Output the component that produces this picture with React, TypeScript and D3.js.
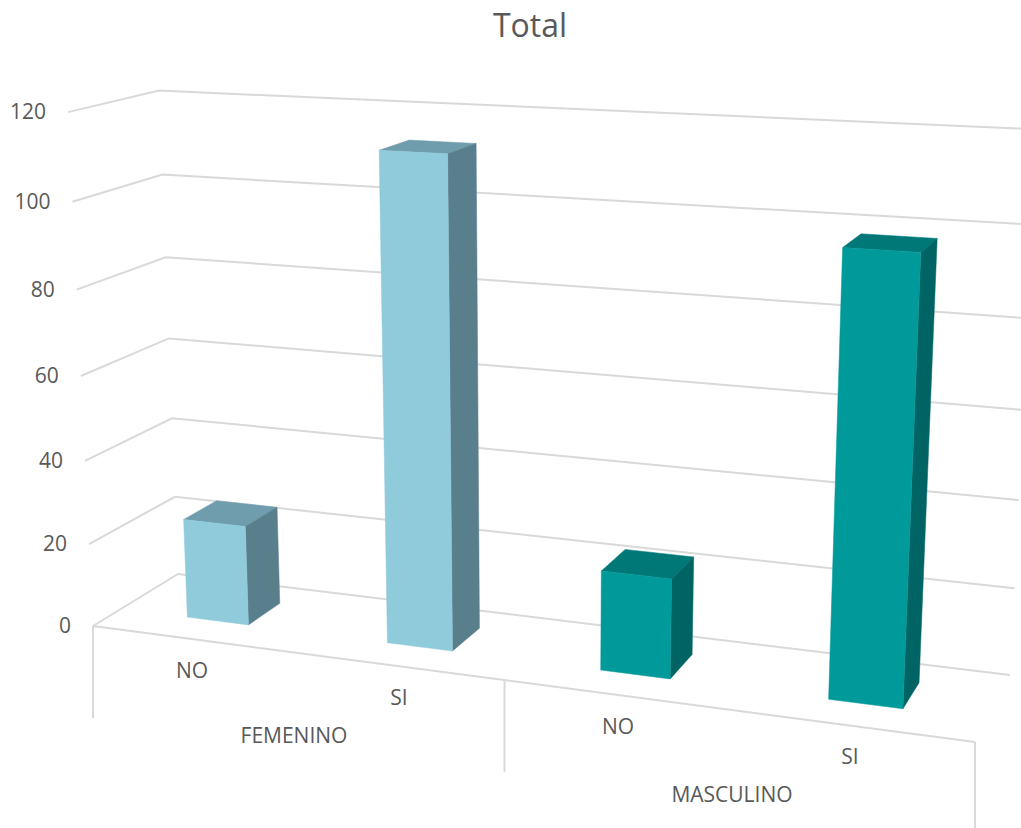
import React from "react";
import * as d3 from "d3";

const groups = ["FEMENINO", "MASCULINO"];
const answers = ["NO", "SI"];
const femeninoValues = [24, 113];
const masculinoValues = [23, 98];
const tickValues = [0, 20, 40, 60, 80, 100, 120];
const lightFaces = { front: "#8FCBDA", top: "#6F9DAD", side: "#5A7F8C" };
const tealFaces = { front: "#009A9A", top: "#007878", side: "#006464" };

const W = 1021, H = 828;
type P = [number, number];
// Perspective frame
const FL: P = [93, 626], FR: P = [975, 742], BR: P = [1010, 675], BL: P = [178, 574];
const VP: P = [543, 9900];
const TAU = 0.0525;

function homography(p0: P, p1: P, p2: P, p3: P) {
  const dx1 = p1[0] - p2[0], dx2 = p3[0] - p2[0], sx = p0[0] - p1[0] + p2[0] - p3[0];
  const dy1 = p1[1] - p2[1], dy2 = p3[1] - p2[1], sy = p0[1] - p1[1] + p2[1] - p3[1];
  const den = dx1 * dy2 - dx2 * dy1;
  const g = (sx * dy2 - dx2 * sy) / den, h = (dx1 * sy - sx * dy1) / den;
  return {
    a: p1[0] - p0[0] + g * p1[0], b: p3[0] - p0[0] + h * p3[0], c: p0[0],
    d: p1[1] - p0[1] + g * p1[1], e: p3[1] - p0[1] + h * p3[1], f: p0[1],
    g, h,
  };
}
const H0 = homography(FL, FR, BR, BL);
const vScale = d3.scaleLinear().domain([0, 120]).range([0, TAU]);
function proj(u: number, w: number, value: number): P {
  const t = vScale(value);
  const X = H0.a * u + H0.b * w + H0.c - t * VP[0];
  const Y = H0.d * u + H0.e * w + H0.f - t * VP[1];
  const Z = H0.g * u + H0.h * w + 1 - t;
  return [X / Z, Y / Z];
}

const keys = groups.flatMap((g) => answers.map((a) => `${g}|${a}`));
const uBand = d3.scaleBand<string>().domain(keys).range([0, 1]).paddingInner(0.688).paddingOuter(0.344);
const W_FRONT = 0.32, W_BACK = 0.72;
const poly = d3.line<P>().x((p) => p[0]).y((p) => p[1]);
const closed = (pts: P[]) => poly(pts) + "Z";

const bars = [
  ...femeninoValues.map((v, i) => ({ key: `FEMENINO|${answers[i]}`, v, faces: lightFaces })),
  ...masculinoValues.map((v, i) => ({ key: `MASCULINO|${answers[i]}`, v, faces: tealFaces })),
];

const GRID = "#D9D9D9";
const TEXT = "#595959";
const FONT = "'Open Sans', sans-serif";

export default function App() {
  return (
    <svg width={W} height={H} style={{ position: "absolute", left: 0, top: 0, background: "#fff" }}>
      <text x={530} y={37} textAnchor="middle" fontFamily={FONT} fontSize={32} fill={TEXT}>Total</text>
      <g fill="none" stroke={GRID} strokeWidth={2}>
        {tickValues.map((t) => (
          <path key={t} d={poly([proj(0, 0, t), proj(0, 1, t), proj(1, 1, t)])!} />
        ))}
        <path d={poly([proj(0, 0, 0), proj(1, 0, 0)])!} />
      </g>
      <g stroke={GRID} strokeWidth={2}>
        {[0, 0.5, 1].map((u) => {
          const p = proj(u, 0, 0);
          return <line key={u} x1={p[0]} y1={p[1]} x2={p[0]} y2={p[1] + 92} />;
        })}
      </g>
      {tickValues.map((t) => {
        const p = proj(0, 0, t);
        return (
          <text key={t} x={p[0] - 22} y={p[1] + 7} textAnchor="end" fontFamily={FONT} fontSize={21} fill={TEXT}>{t}</text>
        );
      })}
      {bars.map((b) => {
        const u0 = uBand(b.key)!, u1 = u0 + uBand.bandwidth();
        const a0 = proj(u0, W_FRONT, 0), a1 = proj(u1, W_FRONT, 0), a2 = proj(u1, W_BACK, 0);
        const t0 = proj(u0, W_FRONT, b.v), t1 = proj(u1, W_FRONT, b.v), t2 = proj(u1, W_BACK, b.v), t3 = proj(u0, W_BACK, b.v);
        return (
          <g key={b.key} strokeWidth={0.5}>
            <path d={closed([t0, t1, t2, t3])} fill={b.faces.top} stroke={b.faces.top} />
            <path d={closed([a1, a2, t2, t1])} fill={b.faces.side} stroke={b.faces.side} />
            <path d={closed([a0, a1, t1, t0])} fill={b.faces.front} stroke={b.faces.front} />
          </g>
        );
      })}
      {groups.map((g, gi) => {
        const pos = gi === 0
          ? { cat: [[192, 678], [399, 705]], grp: [294, 743] }
          : { cat: [[618, 734], [850, 764]], grp: [732, 802] };
        return (
          <g key={g} fontFamily={FONT} fontSize={21} fill={TEXT} textAnchor="middle">
            {answers.map((a, i) => (
              <text key={a} x={pos.cat[i][0]} y={pos.cat[i][1]}>{a}</text>
            ))}
            <text x={pos.grp[0]} y={pos.grp[1]}>{g}</text>
          </g>
        );
      })}
    </svg>
  );
}
